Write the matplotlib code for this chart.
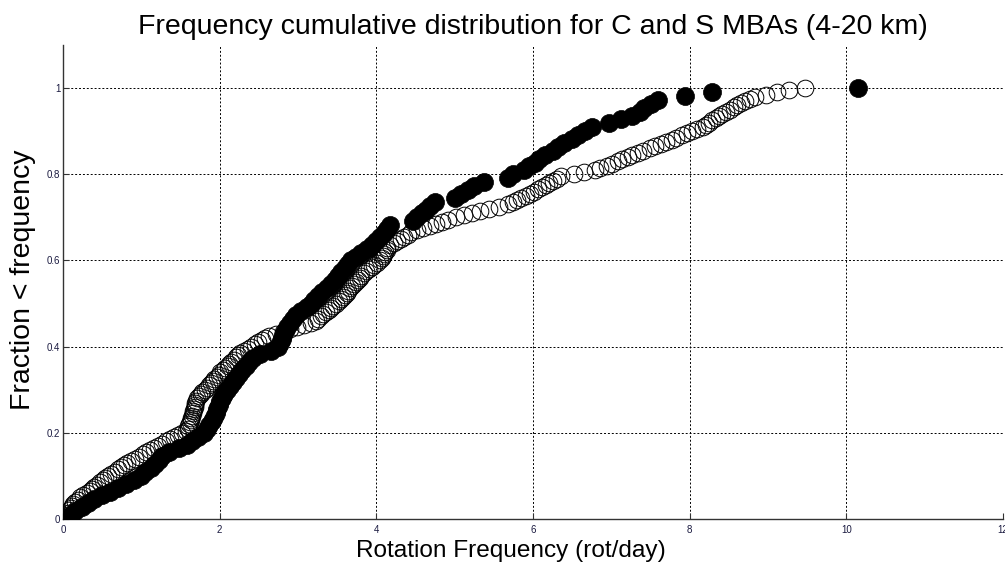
import matplotlib
matplotlib.use('Agg')
import matplotlib.pyplot as plt
import numpy as np

# ─── Data: rotation frequencies (rot/day) ────────────────────────────────────
# S-type MBAs (open circles), sorted
freq_s = [
    0.03, 0.05, 0.06, 0.08, 0.10, 0.11, 0.13, 0.15, 0.19, 0.22,
    0.26, 0.30, 0.34, 0.37, 0.40, 0.44, 0.47, 0.51, 0.54, 0.57,
    0.61, 0.66, 0.70, 0.74, 0.78, 0.82, 0.87, 0.92, 0.97, 1.02,
    1.06, 1.11, 1.16, 1.21, 1.26, 1.31, 1.37, 1.42, 1.47, 1.52,
    1.57, 1.59, 1.60, 1.61, 1.62, 1.63, 1.64, 1.65, 1.66, 1.66,
    1.67, 1.68, 1.68, 1.69, 1.70, 1.71, 1.73, 1.76, 1.78, 1.81,
    1.84, 1.86, 1.89, 1.91, 1.93, 1.96, 1.99, 2.01, 2.04, 2.07,
    2.10, 2.12, 2.15, 2.18, 2.21, 2.24, 2.26, 2.31, 2.36, 2.40,
    2.45, 2.49, 2.54, 2.58, 2.63, 2.72, 2.81, 2.90, 2.99, 3.08,
    3.17, 3.23, 3.26, 3.29, 3.32, 3.36, 3.39, 3.42, 3.45, 3.48,
    3.52, 3.55, 3.57, 3.60, 3.62, 3.64, 3.67, 3.69, 3.72, 3.74,
    3.76, 3.79, 3.81, 3.84, 3.87, 3.90, 3.94, 3.97, 4.01, 4.05,
    4.07, 4.08, 4.10, 4.11, 4.13, 4.14, 4.17, 4.22, 4.26, 4.31,
    4.35, 4.40, 4.44, 4.52, 4.60, 4.68, 4.76, 4.84, 4.92, 5.02,
    5.12, 5.22, 5.32, 5.44, 5.56, 5.68, 5.74, 5.80, 5.85, 5.91,
    5.96, 6.01, 6.06, 6.11, 6.16, 6.20, 6.25, 6.30, 6.36, 6.52,
    6.65, 6.79, 6.86, 6.94, 7.01, 7.08, 7.14, 7.21, 7.27, 7.34,
    7.41, 7.49, 7.56, 7.64, 7.70, 7.77, 7.83, 7.90, 7.97, 8.03,
    8.10, 8.17, 8.21, 8.25, 8.29, 8.33, 8.37, 8.41, 8.46, 8.51,
    8.56, 8.60, 8.65, 8.71, 8.77, 8.83, 8.98, 9.12, 9.27, 9.47,
]

# C-type MBAs (filled circles), sorted
freq_c = [
    0.10, 0.15, 0.24, 0.32, 0.40, 0.50, 0.60, 0.70, 0.80, 0.90,
    0.99, 1.05, 1.12, 1.17, 1.22, 1.27, 1.35, 1.48, 1.58, 1.65,
    1.72, 1.80, 1.84, 1.87, 1.90, 1.93, 1.95, 1.97, 1.99, 2.01,
    2.03, 2.06, 2.09, 2.13, 2.17, 2.21, 2.25, 2.29, 2.33, 2.37,
    2.42, 2.52, 2.65, 2.74, 2.77, 2.79, 2.81, 2.83, 2.86, 2.90,
    2.94, 2.98, 3.04, 3.11, 3.16, 3.20, 3.25, 3.31, 3.37, 3.42,
    3.47, 3.51, 3.55, 3.60, 3.64, 3.68, 3.74, 3.81, 3.88, 3.95,
    4.00, 4.05, 4.10, 4.14, 4.18, 4.47, 4.52, 4.58, 4.63, 4.69,
    4.75, 5.00, 5.08, 5.17, 5.25, 5.38, 5.68, 5.75, 5.88, 5.95,
    6.02, 6.08, 6.15, 6.25, 6.32, 6.40, 6.50, 6.57, 6.66, 6.75,
    6.97, 7.12, 7.27, 7.36, 7.42, 7.50, 7.60, 7.94, 8.28, 10.15,
]

x_ticks = [0, 2, 4, 6, 8, 10, 12]
y_ticks = [0, 0.2, 0.4, 0.6, 0.8, 1.0]
y_tick_labels = ['0', '0.2', '0.4', '0.6', '0.8', '1']

# empirical cumulative fraction (rank / N)
frac_s = np.arange(1, len(freq_s) + 1) / len(freq_s)
frac_c = np.arange(1, len(freq_c) + 1) / len(freq_c)

# ─── Plot ─────────────────────────────────────────────────────────────────────
plt.rcParams['font.family'] = ['Liberation Sans', 'DejaVu Sans']

fig = plt.figure(figsize=(10.05, 5.67), dpi=100)
ax = fig.add_axes([63 / 1005, 48 / 567, 940 / 1005, 474 / 567])

ax.plot(freq_s, frac_s, 'o', markersize=12, markerfacecolor='none',
        markeredgecolor='black', markeredgewidth=0.7, zorder=3)
ax.plot(freq_c, frac_c, 'o', markersize=13, markerfacecolor='black',
        markeredgecolor='black', markeredgewidth=0.5, zorder=4)

ax.set_xlim(0, 12)
ax.set_ylim(0, 1.1)
ax.set_xticks(x_ticks)
ax.set_yticks(y_ticks)
ax.set_yticklabels(y_tick_labels)
ax.tick_params(direction='in', length=4, width=0.8, labelsize=7,
               colors='#333333', labelcolor='#1a1a40')
ax.tick_params(axis='x', pad=4)
ax.tick_params(axis='y', pad=2)

ax.grid(True, color='black', linestyle=(0, (2, 2)), linewidth=0.7)
ax.set_axisbelow(True)

for side in ('top', 'right'):
    ax.spines[side].set_visible(False)
for side in ('left', 'bottom'):
    ax.spines[side].set_color('#333333')
    ax.spines[side].set_linewidth(1.0)

ax.set_title('Frequency cumulative distribution for C and S MBAs (4-20 km)',
             fontsize=20.5, pad=8)
ax.set_xlabel('Rotation Frequency (rot/day)', fontsize=17.6, labelpad=5)
ax.xaxis.set_label_coords(0.476, -0.045, transform=ax.transAxes)
ax.xaxis.label.set_va('top')
ax.set_ylabel('Fraction < frequency', fontsize=20.5)
ax.yaxis.set_label_coords(-0.029, 0.505)

fig.savefig('out.png', dpi=100)
